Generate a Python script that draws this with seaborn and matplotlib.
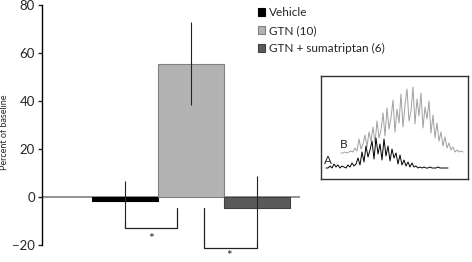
import numpy as np
import pandas as pd
import matplotlib
matplotlib.use('Agg')
import matplotlib.pyplot as plt
import seaborn as sns
from matplotlib.patches import Patch

# bar data
groups = ['Vehicle', 'GTN (10)', 'GTN + sumatriptan (6)']
means = [-1.8, 55.3, -4.7]
sems = [8.5, 17.3, 13.4]
colors = ['#000000', '#b3b3b3', '#5a5a5a']
edges = ['#000000', '#808080', '#404040']

# inset traces (height above inset bottom, one sample every 2 px)
trace_b = [26, 26, 27, 26, 27, 28, 27, 31, 28, 40, 30, 35, 44, 32, 47, 38,
           52, 36, 58, 41, 49, 66, 43, 71, 50, 61, 79, 47, 70, 56, 85, 52,
           74, 90, 58, 68, 92, 55, 80, 63, 86, 51, 72, 60, 78, 46, 64, 41,
           56, 38, 47, 33, 42, 31, 36, 29, 32, 27, 29, 27, 28, 27]
trace_a = [11, 11, 13, 11, 15, 12, 14, 11, 13, 12, 11, 14, 12, 16, 13, 15,
           21, 14, 27, 17, 33, 22, 29, 38, 20, 41, 25, 35, 19, 40, 23, 33,
           18, 30, 21, 26, 15, 24, 14, 19, 13, 17, 12, 16, 12, 13, 11, 12,
           11, 12, 11, 11, 12, 11, 11, 11, 12, 11, 11, 11, 11, 11]

sns.set_style('white')
plt.rcParams['font.family'] = ['Lato', 'DejaVu Sans']

fig = plt.figure(figsize=(4.72, 2.62), dpi=100)
ax = fig.add_axes([42/472, 1-244.7/262, 258/472, 240/262])

df = pd.DataFrame({'group': groups, 'value': means})
sns.barplot(data=df, x='group', y='value', hue='group', palette=colors,
            width=1.0, legend=False, ax=ax)
for bar, ec in zip(ax.patches, edges):
    bar.set_edgecolor(ec)
    bar.set_linewidth(0.8)

ax.errorbar(range(3), means, yerr=sems, fmt='none', ecolor='#222222',
            elinewidth=0.8, capsize=0)

ax.axhline(0, color='#808080', lw=1.2, zorder=0)
ax.set_xlim(-1.26, 2.65)
ax.set_ylim(-20, 80)
ax.set_yticks([-20, 0, 20, 40, 60, 80])
ax.set_xticks([])
ax.set_xlabel('')
ax.set_ylabel('Percent of baseline', fontsize=6.5)
ax.yaxis.set_label_coords(-0.128, 0.47)
for s in ['top', 'right', 'bottom']:
    ax.spines[s].set_visible(False)
ax.spines['left'].set_color('black')
ax.spines['left'].set_linewidth(1)
ax.tick_params(axis='y', left=True, length=3, width=1, labelsize=9.5, pad=2)

# significance brackets
ax.plot([0, 0, 0.79, 0.79], [-10.3, -13.2, -13.2, -4.7], color='#222222',
        lw=0.9, clip_on=False)
ax.text(0.39, -17.6, '*', ha='center', va='center', fontsize=10)
ax.plot([1.2, 1.2, 2.0, 2.0], [-4.7, -21.4, -21.4, -18.1], color='#222222',
        lw=0.9, clip_on=False)
ax.text(1.58, -24.8, '*', ha='center', va='center', fontsize=9.5,
        clip_on=False)

handles = [Patch(facecolor=c, edgecolor=e, lw=0.8) for c, e in zip(colors, edges)]
fig.legend(handles, groups, loc='upper left', bbox_to_anchor=(253/472, 1-2/262),
           frameon=False, fontsize=8.5, handlelength=0.65, handleheight=0.65,
           handletextpad=0.3, labelspacing=0.6, borderaxespad=0)

# inset with traces
ins = fig.add_axes([321/472, 1-179/262, 147/472, 103/262])
ins.plot(341 + 2*np.arange(len(trace_b)), trace_b, color='#a0a0a0', lw=0.7)
ins.plot(326 + 2*np.arange(len(trace_a)), trace_a, color='black', lw=0.7)
ins.text(344, 35, 'B', ha='center', va='center', fontsize=8.5)
ins.text(328, 18, 'A', ha='center', va='center', fontsize=8.5)
ins.set_xlim(321, 468)
ins.set_ylim(0, 103)
ins.set_xticks([])
ins.set_yticks([])
for s in ins.spines.values():
    s.set_color('#333333')
    s.set_linewidth(1)

fig.savefig('out.png', dpi=100)
